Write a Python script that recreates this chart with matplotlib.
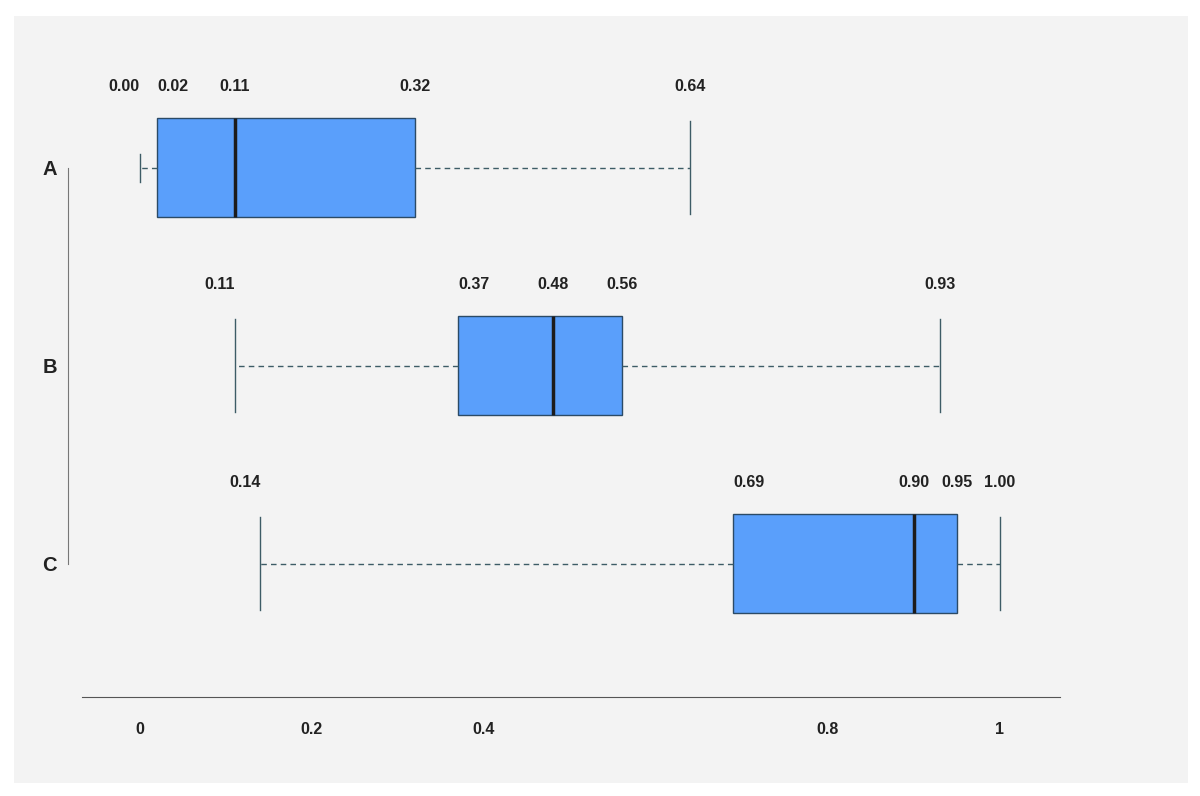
import matplotlib.pyplot as plt
from matplotlib.patches import Rectangle

categories = ['A', 'B', 'C']
mins = [0.00, 0.11, 0.14]
q1s = [0.02, 0.37, 0.69]
medians = [0.11, 0.48, 0.90]
q3s = [0.32, 0.56, 0.95]
maxs = [0.64, 0.93, 1.00]
tick_values = [0, 0.2, 0.4, 0.8, 1]
tick_labels = ['0', '0.2', '0.4', '0.8', '1']

plt.rcParams['font.family'] = ['Liberation Sans', 'DejaVu Sans']

fig = plt.figure(figsize=(12, 7.96), dpi=100)
fig.patch.set_facecolor('white')
fig.add_artist(Rectangle((14 / 1200, 13 / 796), 1174 / 1200, 767 / 796,
                         transform=fig.transFigure, facecolor='#f3f3f3',
                         edgecolor='none', zorder=-10))

ax = fig.add_axes([82 / 1200, 1 - 697 / 796, 978 / 1200, 637 / 796])
ax.set_facecolor('none')

stats = []
for i, cat in enumerate(categories):
    stats.append({'label': cat, 'whislo': mins[i], 'q1': q1s[i], 'med': medians[i],
                  'q3': q3s[i], 'whishi': maxs[i], 'fliers': []})

positions = list(range(len(categories)))
res = ax.bxp(stats, positions=positions, vert=False, widths=0.5, capwidths=0.47,
             patch_artist=True, showfliers=False,
             boxprops=dict(facecolor='#5a9ffb', edgecolor='#2b4a66', linewidth=1),
             medianprops=dict(color='#1c1c1c', linewidth=2.5),
             whiskerprops=dict(color='#3d5c66', linewidth=1, linestyle=(0, (4, 3))),
             capprops=dict(color='#3d5c66', linewidth=1))

# the low cap of A is drawn short
res['caps'][0].set_ydata([positions[0] - 0.07, positions[0] + 0.07])

# value labels above each box
for i in range(len(categories)):
    y = positions[i] - 0.41
    kw = dict(fontsize=11.5, fontweight='bold', color='#222222', va='center')
    ax.text(mins[i], y, f'{mins[i]:.2f}', ha='right', **kw)
    ax.text(q1s[i], y, f'{q1s[i]:.2f}', ha='left', **kw)
    ax.text(medians[i], y, f'{medians[i]:.2f}', ha='center', **kw)
    ax.text(q3s[i], y, f'{q3s[i]:.2f}', ha='center', **kw)
    ax.text(maxs[i], y, f'{maxs[i]:.2f}', ha='center', **kw)

for side in ['top', 'right']:
    ax.spines[side].set_visible(False)
ax.spines['bottom'].set_color('#555555')
ax.spines['left'].set_color('#777777')
ax.spines['left'].set_position(('outward', 10))
ax.spines['left'].set_bounds(0, 2)

ax.set_xlim(-0.0674, 1.0698)
ax.set_ylim(2.672, -0.545)

ax.set_xticks(tick_values)
ax.set_xticklabels(tick_labels, fontsize=11.5, fontweight='bold', color='#222222')
ax.set_yticks(positions)
ax.set_yticklabels(categories, fontsize=14.5, fontweight='bold', color='#222222')
ax.tick_params(axis='x', length=0, pad=18)
ax.tick_params(axis='y', length=0, pad=8)

plt.savefig('out.png', dpi=100)
